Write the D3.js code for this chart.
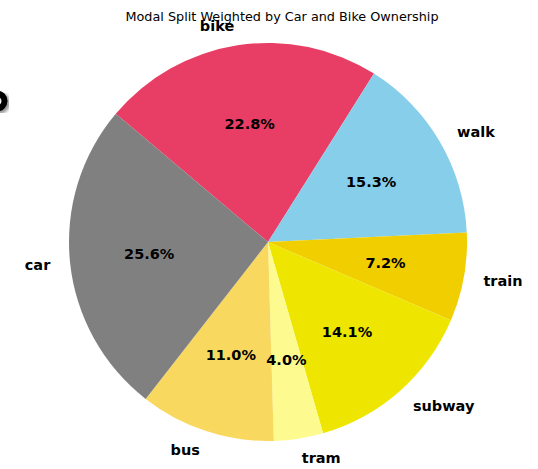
<!DOCTYPE html>
<html>
<head>
<meta charset="utf-8">
<script src="https://cdn.jsdelivr.net/npm/d3@7"></script>
<style>
	body { margin: 0; background: #fff; }
	svg { display: block; font-family: "DejaVu Sans", sans-serif; }
	.label { font-weight: bold; font-size: 14.5px; }
	.pct { font-weight: bold; font-size: 14.5px; }
</style>
</head>
<body>
<script>
(function() {

"use strict";

// clockwise from the top
const MODES = ["bike", "walk", "train", "subway", "tram", "bus", "car"];
const SHARES = [22.8, 15.3, 7.2, 14.1, 4.0, 11.0, 25.6];
const COLORS = ["#e83e65", "#87ceea", "#f0ce00", "#eee600", "#fdfb8f", "#f9d85f", "#808080"];
const TITLE = "Modal Split Weighted by Car and Bike Ownership";

const width = 538, height = 469;
const cx = 268, cy = 242, r = 199;
const start = -49.9 * Math.PI / 180;

let data = MODES.map((mode, i) => ({mode, share: SHARES[i], color: COLORS[i]}));

let svg = d3.select("body").append("svg")
	.attr("width", width)
	.attr("height", height);

let defs = svg.append("defs");
defs.append("filter")
	.attr("id", "blur")
	.append("feGaussianBlur")
		.attr("stdDeviation", 1.5);

// stray glyph clipped at the left edge
let stray = svg.append("g");
stray.append("circle")
	.attr("cx", -1).attr("cy", 103).attr("r", 8)
	.attr("fill", "none").attr("stroke", "#999").attr("stroke-width", 6)
	.attr("filter", "url(#blur)");
stray.append("circle")
	.attr("cx", -3).attr("cy", 101).attr("r", 7.5)
	.attr("fill", "none").attr("stroke", "#000").attr("stroke-width", 6);

let pie = d3.pie()
	.value(d => d.share)
	.sort(null)
	.startAngle(start)
	.endAngle(start + 2 * Math.PI);

let arcs = pie(data);

let arc = d3.arc().innerRadius(0).outerRadius(r);

let chart = svg.append("g")
	.attr("transform", `translate(${cx}, ${cy})`);

chart.selectAll("path")
	.data(arcs)
	.join("path")
		.attr("d", arc)
		.attr("fill", d => d.data.color);

let mid = d => (d.startAngle + d.endAngle) / 2;

chart.selectAll("text.pct")
	.data(arcs)
	.join("text")
		.attr("class", "pct")
		.attr("x", d => 0.6 * r * Math.sin(mid(d)))
		.attr("y", d => -0.6 * r * Math.cos(mid(d)))
		.attr("text-anchor", "middle")
		.attr("dominant-baseline", "central")
		.text(d => d.data.share.toFixed(1) + "%");

chart.selectAll("text.label")
	.data(arcs)
	.join("text")
		.attr("class", "label")
		.attr("x", d => 1.1 * r * Math.sin(mid(d)))
		.attr("y", d => -1.1 * r * Math.cos(mid(d)))
		.attr("text-anchor", d => Math.sin(mid(d)) < 0 ? "end" : "start")
		.attr("dominant-baseline", "central")
		.text(d => d.data.mode);

svg.append("text")
	.attr("x", 282)
	.attr("y", 16)
	.attr("text-anchor", "middle")
	.attr("dominant-baseline", "central")
	.style("font-size", "12.8px")
	.text(TITLE);

})();
</script>
</body>
</html>
